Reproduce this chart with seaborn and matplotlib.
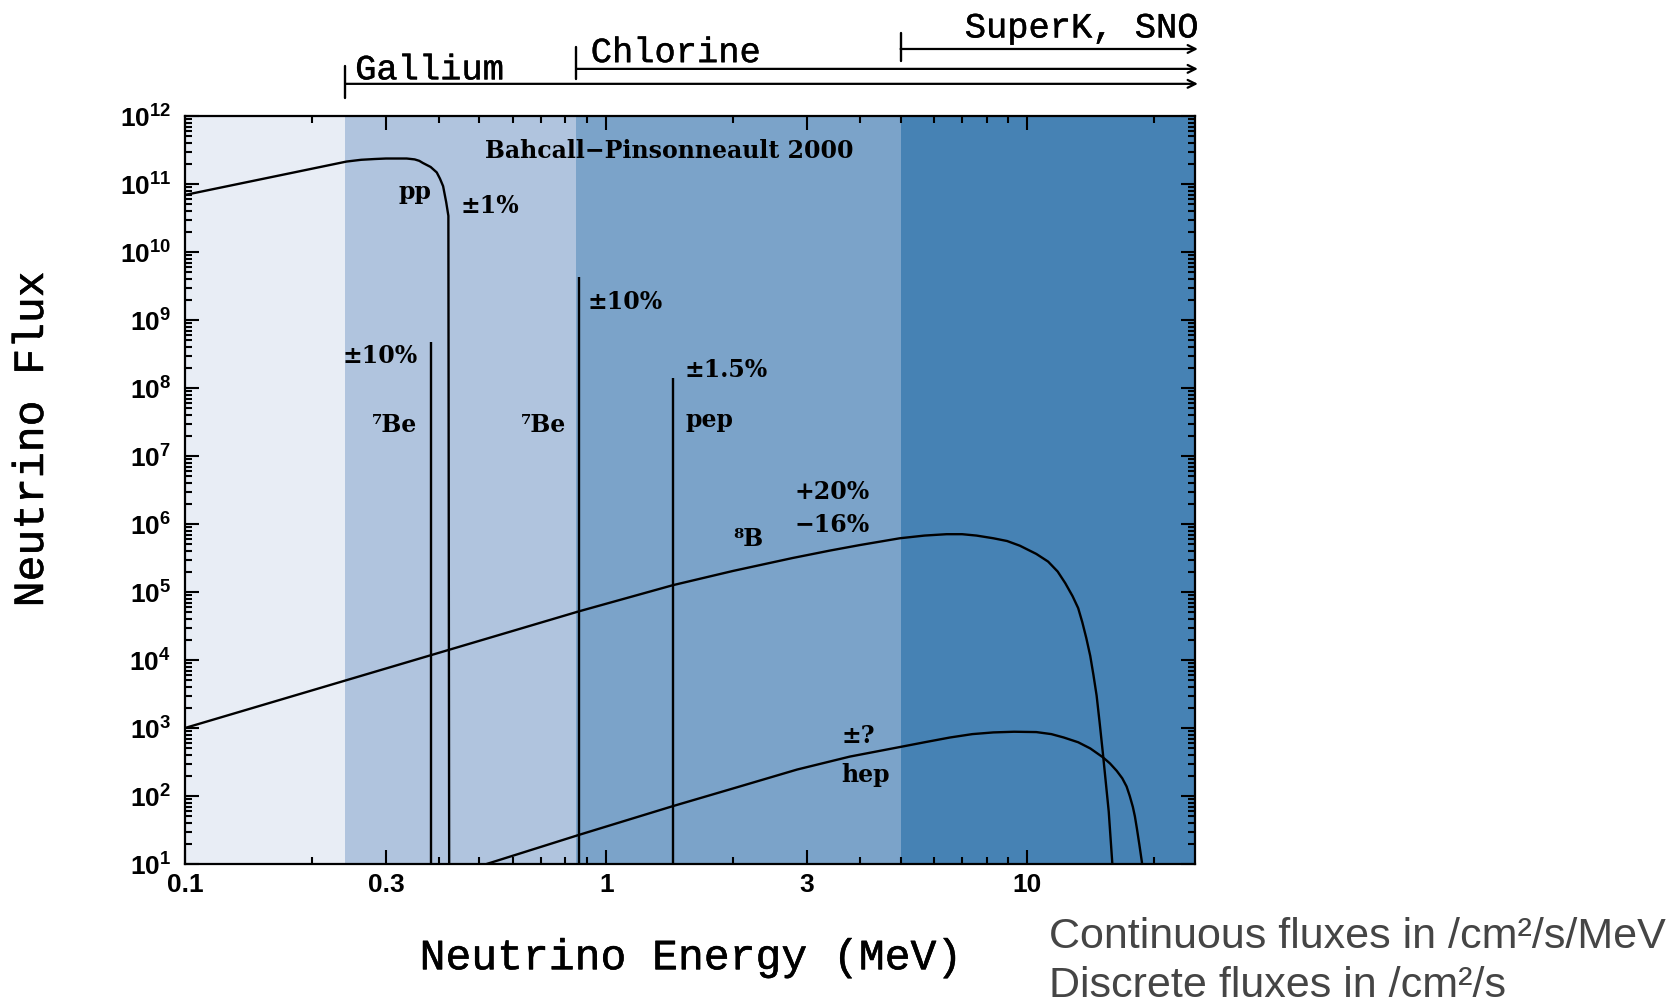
import numpy as np
import pandas as pd
import matplotlib
matplotlib.use("Agg")
import matplotlib.pyplot as plt
import matplotlib.ticker as mticker
import matplotlib.transforms as mtransforms
import matplotlib.patheffects as pe
import seaborn as sns

# Continuous solar-neutrino spectra: energy (MeV) and flux (/cm^2/s/MeV)
pp_energy = [0.100, 0.242, 0.262, 0.282, 0.300, 0.336, 0.351, 0.360, 0.367, 0.383,
             0.396, 0.403, 0.410, 0.417, 0.422, 0.424]
pp_flux = [6.9e10, 2.14e11, 2.27e11, 2.33e11, 2.37e11, 2.37e11, 2.30e11, 2.19e11,
           2.04e11, 1.78e11, 1.48e11, 1.20e11, 9.3e10, 5.4e10, 3.4e10, 1.0]

b8_energy = [0.10, 0.862, 1.44, 2.0, 2.77, 3.4, 4.0, 4.98, 5.7, 6.43, 7.0, 7.57,
             8.3, 8.95, 9.6, 10.5, 11.2, 11.8, 12.3, 12.8, 13.2, 13.5, 13.8,
             14.1, 14.35, 14.6, 14.85, 15.1, 15.35, 15.6, 15.9, 16.05]
b8_flux = [1.0e3, 5.2e4, 1.26e5, 2.04e5, 3.16e5, 4.07e5, 4.9e5, 6.17e5, 6.76e5,
           7.08e5, 7.08e5, 6.76e5, 6.17e5, 5.62e5, 4.79e5, 3.63e5, 2.8e5, 2.0e5,
           1.35e5, 8.7e4, 5.8e4, 3.6e4, 2.1e4, 1.15e4, 6.0e3, 3.0e3, 1.17e3, 4.4e2,
           1.6e2, 59.0, 10.7, 4.0]

hep_energy = [0.52, 0.865, 1.44, 2.0, 2.84, 3.79, 4.98, 5.7, 6.55, 7.4, 8.3, 9.3,
              10.5, 11.4, 12.2, 13.2, 14.1, 15.1, 15.7, 16.3, 16.8, 17.2, 17.5,
              17.8, 18.0, 18.2, 18.45, 18.7, 18.85]
hep_flux = [10.0, 27.0, 71.0, 129.0, 245.0, 380.0, 525.0, 617.0, 725.0, 813.0,
            861.0, 881.0, 871.0, 813.0, 725.0, 617.0, 501.0, 372.0, 302.0, 234.0,
            182.0, 138.0, 100.0, 69.0, 50.0, 33.0, 19.0, 10.7, 6.3]

# Discrete lines: energy (MeV) and flux (/cm^2/s)
line_names = ["7Be", "7Be", "pep"]
line_energy = [0.384, 0.862, 1.442]
line_flux = [4.8e8, 4.3e9, 1.4e8]

# Detector thresholds and the shaded energy bands
threshold_names = ["Gallium", "Chlorine", "SuperK, SNO"]
threshold_energy = [0.24, 0.85, 5.0]
band_edges = [0.1, 0.24, 0.85, 5.0, 25.0]
band_colors = ["#e8edf5", "#b0c4de", "#7ba3c9", "#4682b4"]

x_ticks = [0.1, 0.3, 1, 3, 10]
x_tick_labels = ["0.1", "0.3", "1", "3", "10"]

sns.set_theme(style="ticks")
plt.rcParams.update({
    "font.family": ["DejaVu Serif"],
    "mathtext.fontset": "custom",
    "mathtext.rm": "Liberation Sans",
    "mathtext.bf": "Liberation Sans:bold",
    "axes.linewidth": 1.6,
    "text.color": "black",
    "axes.labelcolor": "black",
    "axes.edgecolor": "black",
    "xtick.color": "black",
    "ytick.color": "black",
})

fig = plt.figure(figsize=(16.66, 10.03), dpi=100)
ax = fig.add_axes([185 / 1666, 1 - 865 / 1003, 1010 / 1666, 748 / 1003])
ax.set_xscale("log")
ax.set_yscale("log")

for lo, hi, c in zip(band_edges[:-1], band_edges[1:], band_colors):
    ax.axvspan(lo, hi, color=c, lw=0, zorder=0)

spectra = pd.concat([
    pd.DataFrame({"source": "pp", "energy": pp_energy, "flux": pp_flux}),
    pd.DataFrame({"source": "8B", "energy": b8_energy, "flux": b8_flux}),
    pd.DataFrame({"source": "hep", "energy": hep_energy, "flux": hep_flux}),
], ignore_index=True)

sns.lineplot(data=spectra, x="energy", y="flux", units="source", estimator=None,
             sort=False, color="black", lw=1.7, ax=ax, zorder=3)
ax.vlines(line_energy, 1.0, line_flux, color="black", lw=1.7, zorder=3)

ax.set_xlim(0.1, 25)
ax.set_ylim(10, 1e12)

# ticks on all four sides, pointing inward
ax.xaxis.set_major_locator(mticker.FixedLocator(x_ticks))
ax.xaxis.set_major_formatter(mticker.FixedFormatter(x_tick_labels))
ax.xaxis.set_minor_locator(mticker.LogLocator(base=10, subs=np.arange(1, 10), numticks=30))
ax.xaxis.set_minor_formatter(mticker.NullFormatter())
ax.yaxis.set_major_locator(mticker.LogLocator(base=10, numticks=30))
ax.yaxis.set_minor_locator(mticker.LogLocator(base=10, subs=np.arange(2, 10), numticks=30))
ax.yaxis.set_minor_formatter(mticker.NullFormatter())
ax.yaxis.set_major_formatter(mticker.FuncFormatter(
    lambda v, _: r"$\mathbf{10^{%d}}$" % int(round(np.log10(v)))))
ax.tick_params(which="both", direction="in", top=True, right=True, width=1.5)
ax.tick_params(which="major", length=10, labelsize=19)
ax.tick_params(which="minor", length=5)
ax.tick_params(axis="x", which="major", pad=6)
ax.tick_params(axis="y", which="major", pad=10)
for lab in ax.get_xticklabels():
    lab.set_fontfamily("Liberation Sans")
    lab.set_fontweight("bold")

# axis titles in a typewriter face, slightly thickened
mono = "Liberation Mono"
thick = [pe.withStroke(linewidth=0.4, foreground="black")]
ax.set_xlabel("Neutrino Energy (MeV)", fontfamily=mono, fontsize=31, path_effects=thick)
ax.xaxis.label.set_va("center")
ax.xaxis.set_label_coords(0.5, -0.126)
ax.set_ylabel("Neutrino Flux", fontfamily=mono, fontsize=31, path_effects=thick)
ax.yaxis.label.set_va("center")
ax.yaxis.set_label_coords(-0.1515, 0.567)

# detector threshold brackets above the axes
trans = mtransforms.blended_transform_factory(ax.transData, ax.transAxes)
bracket_y = [1.043, 1.063, 1.0896]
bracket_tick = [(1.024, 1.067), (1.049, 1.092), (1.0735, 1.111)]
label_x = [0.2535, 0.919, 7.1]
label_y = [1.049, 1.072, 1.105]
for name, e, yb, (t0, t1), lx, ly in zip(threshold_names, threshold_energy,
                                          bracket_y, bracket_tick, label_x, label_y):
    ax.plot([e, e], [t0, t1], transform=trans, clip_on=False, color="black", lw=1.7)
    ax.annotate("", xy=(25.4, yb), xytext=(e, yb), xycoords=trans, textcoords=trans,
                arrowprops=dict(arrowstyle="->", lw=1.6, color="black",
                                shrinkA=0, shrinkB=0, mutation_scale=14),
                annotation_clip=False)
    ax.text(lx, ly, name, transform=trans, fontfamily=mono, fontsize=25.5,
            ha="left", va="baseline",
            path_effects=[pe.withStroke(linewidth=0.3, foreground="black")])

# labels inside the plot
lbl = dict(fontfamily="DejaVu Serif", fontweight="bold", fontsize=17,
           ha="center", va="center", zorder=4, color="black")
ax.text(1.41, 10**11.5, "Bahcall\u2212Pinsonneault 2000", **lbl)
ax.text(0.351, 10**10.9, "pp", **lbl)
ax.text(0.530, 10**10.69, "\u00b11%", **lbl)
ax.text(0.291, 10**8.48, "\u00b110%", **lbl)
ax.text(0.314, 10**7.47, "\u2077Be", **lbl)
ax.text(0.711, 10**7.47, "\u2077Be", **lbl)
ax.text(1.11, 10**9.28, "\u00b110%", **lbl)
ax.text(1.93, 10**8.28, "\u00b11.5%", **lbl)
ax.text(1.76, 10**7.55, "pep", **lbl)
ax.text(3.43, 10**6.48, "+20%", **lbl)
ax.text(3.43, 10**6.0, "\u221216%", **lbl)
ax.text(2.17, 10**5.80, "\u2078B", **lbl)
ax.text(3.97, 10**2.89, "\u00b1?", **lbl)
ax.text(4.14, 10**2.33, "hep", **lbl)

# units note
note = dict(fontfamily="Liberation Sans", fontsize=31, color="#454545",
            ha="left", va="baseline")
fig.text(1049 / 1666, 1 - 948 / 1003, "Continuous fluxes in /cm\u00b2/s/MeV", **note)
fig.text(1049 / 1666, 1 - 997 / 1003, "Discrete fluxes in /cm\u00b2/s", **note)

fig.savefig("out.png", dpi=100)
